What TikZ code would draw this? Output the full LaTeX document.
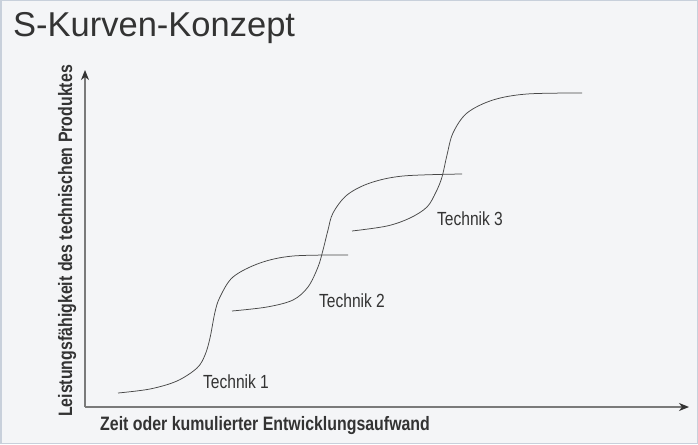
\documentclass[tikz,border=0pt]{standalone}
\usepackage{fontspec}
\setmainfont{Liberation Sans}
\newfontfamily\narrowfont[FakeStretch=0.82]{Liberation Sans}
\usepackage{tikz}
\usetikzlibrary{arrows.meta, positioning}
\definecolor{bgfill}{HTML}{F4F5F7}
\definecolor{framecol}{HTML}{C8D0DB}
\definecolor{inkcol}{HTML}{333333}
\definecolor{axiscol}{HTML}{7A7A7A}
\tikzset{
    axis/.style = {draw=axiscol, line width=1.2pt, -{Stealth[length=10pt, width=8pt, inset=3pt, color=inkcol]}}, % axis with dark tip
    scurve/.style = {draw=inkcol!90, line width=0.75pt, smooth, tension=0.55},
    lbl/.style = {font=\narrowfont\fontsize{19}{22}\selectfont, text=inkcol, inner sep=0pt, anchor=base},
    axlabel/.style = {font=\narrowfont\bfseries\fontsize{19.4}{22}\selectfont, text=inkcol, inner sep=0pt}
}

\begin{document}
\begin{tikzpicture}[x=1pt, y=-1pt]
    % background and frame
    \path[fill=bgfill, draw=framecol, line width=1.5pt] (0.75,0.75) rectangle (697.25,443.25);
    \useasboundingbox (0,0) rectangle (698,444);
    \node[anchor=base west, inner sep=0pt, font=\fontsize{34.5}{40}\selectfont, text=inkcol] (title) at (13,37) {S-Kurven-Konzept};
    % axes
    \coordinate (origin) at (85,407);
    \coordinate (xend) at (689,407);
    \coordinate (yend) at (85,70);
    \draw[axis] (origin) -- (xend);
    \draw[axis] (origin) -- (yend);
    \node[axlabel, anchor=base west] (xlabel) at (100,430) {Zeit oder kumulierter Entwicklungsaufwand};
    \node[axlabel, anchor=base, rotate=90] (ylabel) at (72,241) {Leistungsfähigkeit des technischen Produktes};
    % s-curves
    \draw[scurve] plot coordinates {(118,393) (150,389) (177,381) (197,368) (205,355) (210,338) (215,312) (220,297) (233,277) (260,263) (293,256) (348,255)};
    \draw[scurve] plot coordinates {(232,311) (267,307) (293,300) (308,287) (318,267) (323,250) (328,230) (333,213) (347,195) (370,183) (403,176) (462,174)};
    \draw[scurve] plot coordinates {(352,231) (387,226) (410,218) (427,207) (436,192) (442,177) (447,155) (453,133) (467,113) (493,100) (527,94) (582,93)};
    \node[lbl] (tech1) at (236,388) {Technik 1};
    \node[lbl] (tech2) at (352,307) {Technik 2};
    \node[lbl] (tech3) at (470,225) {Technik 3};
\end{tikzpicture}
\end{document}
